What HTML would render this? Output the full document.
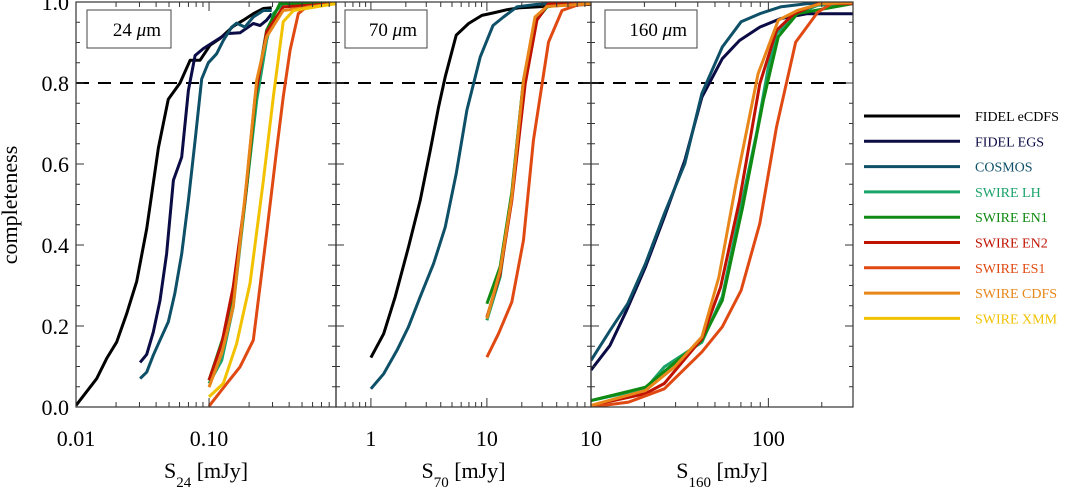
<!DOCTYPE html>
<html><head><meta charset="utf-8">
<style>
html,body{margin:0;padding:0;background:#fff;}
svg{display:block;font-family:"Liberation Serif",serif;}
</style></head>
<body>
<svg id="chart" width="1071" height="493" viewBox="0 0 1071 493" xmlns="http://www.w3.org/2000/svg"></svg>
<script>
// ---- data ----
const seriesNames = ["FIDEL eCDFS","FIDEL EGS","COSMOS","SWIRE LH","SWIRE EN1","SWIRE EN2","SWIRE ES1","SWIRE CDFS","SWIRE XMM"];
const seriesColors = ["#000000","#0b0b45","#0d5068","#1aa36a","#0f8a12","#c01200","#e04a12","#e8861a","#f2c200"];
// panel 24um
const p24_eCDFS_x = [0.01,0.0143,0.017,0.0202,0.024,0.0286,0.034,0.0416,0.0494,0.0605,0.072,0.0855,0.1017,0.121,0.152,0.181,0.215,0.256,0.296];
const p24_eCDFS_y = [0.004,0.07,0.12,0.16,0.23,0.31,0.44,0.64,0.76,0.80,0.856,0.856,0.893,0.91,0.94,0.955,0.971,0.984,0.986];
const p24_EGS_x = [0.0303,0.034,0.0381,0.0428,0.048,0.054,0.0623,0.07,0.0785,0.0906,0.108,0.136,0.171,0.215,0.242,0.271,0.296];
const p24_EGS_y = [0.11,0.13,0.185,0.263,0.378,0.56,0.617,0.782,0.868,0.885,0.901,0.922,0.924,0.947,0.942,0.955,0.971];
const p24_COSMOS_x = [0.0303,0.034,0.0381,0.0428,0.0494,0.0553,0.0623,0.07,0.0785,0.088,0.0987,0.114,0.128,0.148,0.161,0.186,0.215,0.256,0.296];
const p24_COSMOS_y = [0.07,0.086,0.128,0.165,0.21,0.28,0.378,0.51,0.658,0.81,0.85,0.872,0.905,0.938,0.948,0.938,0.963,0.979,0.979];
const p24_LH_x = [0.1,0.1245,0.152,0.192,0.228,0.271,0.304,0.361,0.9];
const p24_LH_y = [0.058,0.115,0.247,0.543,0.757,0.905,0.971,0.996,0.998];
const p24_EN1_x = [0.1,0.128,0.157,0.192,0.228,0.271,0.341,0.9];
const p24_EN1_y = [0.066,0.173,0.305,0.543,0.79,0.93,0.996,0.998];
const p24_EN2_x = [0.1,0.1245,0.152,0.186,0.222,0.271,0.361,0.9];
const p24_EN2_y = [0.066,0.156,0.296,0.51,0.765,0.926,0.988,0.996];
const p24_ES1_x = [0.1,0.136,0.171,0.215,0.271,0.322,0.361,0.407,0.469,0.541,0.9];
const p24_ES1_y = [0.002,0.058,0.099,0.165,0.428,0.634,0.765,0.881,0.971,0.988,0.996];
const p24_CDFS_x = [0.1,0.1245,0.152,0.192,0.228,0.271,0.361,0.9];
const p24_CDFS_y = [0.049,0.132,0.247,0.56,0.807,0.914,0.979,0.996];
const p24_XMM_x = [0.1,0.128,0.161,0.203,0.256,0.304,0.361,0.431,0.9];
const p24_XMM_y = [0.025,0.058,0.156,0.305,0.56,0.765,0.951,0.979,0.996];
// panel 70um
const p70_eCDFS_x = [1,1.29,1.62,2.11,2.66,3.25,3.83,4.37,5.44,6.95,9.06,11.4,14.9,19.4,30.8,45.8,79];
const p70_eCDFS_y = [0.122,0.181,0.272,0.395,0.51,0.634,0.741,0.815,0.918,0.947,0.967,0.973,0.981,0.986,0.989,0.992,0.994];
const p70_COSMOS_x = [1,1.29,1.68,2.11,2.66,3.47,4.37,5.44,6.73,8.76,11.3,13.9,18.1,27,45.8,79];
const p70_COSMOS_y = [0.045,0.082,0.14,0.198,0.272,0.354,0.444,0.576,0.733,0.864,0.942,0.963,0.988,0.994,0.997,0.997];
const p70_LH_x = [10,13,16.4,20.7,26,32.9,45.8,79];
const p70_LH_y = [0.214,0.321,0.527,0.807,0.951,0.988,0.996,0.998];
const p70_EN1_x = [10,13,16.4,20.7,26,32.9,45.8,79];
const p70_EN1_y = [0.255,0.346,0.53,0.807,0.951,0.988,0.996,0.998];
const p70_EN2_x = [10,13,16.4,21.4,27,34,79];
const p70_EN2_y = [0.222,0.329,0.51,0.798,0.955,0.996,0.998];
const p70_ES1_x = [10,12.6,16.4,20.7,25.2,34,44.4,59.7,79];
const p70_ES1_y = [0.123,0.181,0.259,0.412,0.658,0.901,0.979,0.992,0.996];
const p70_CDFS_x = [10,13,16.4,20.7,26,32.9,79];
const p70_CDFS_y = [0.218,0.337,0.519,0.807,0.963,0.989,0.996];
// panel 160um
const p160_EGS_x = [10,12.8,15.9,20.3,25.9,33.8,42.2,55,68.7,89.5,117,166,298];
const p160_EGS_y = [0.091,0.152,0.239,0.346,0.469,0.609,0.765,0.86,0.905,0.938,0.959,0.971,0.971];
const p160_COSMOS_x = [10,12.8,16.1,20.3,25.9,33.8,42.2,55,70.2,89.5,117,166,298];
const p160_COSMOS_y = [0.115,0.189,0.255,0.354,0.477,0.601,0.774,0.889,0.951,0.971,0.988,0.996,0.998];
const p160_LH_x = [10,20.3,25.9,33.8,42.2,55,68.7,85.7,100,111.2,145.8,190,298];
const p160_LH_y = [0.016,0.045,0.099,0.132,0.16,0.272,0.477,0.675,0.84,0.922,0.971,0.992,0.996];
const p160_EN1_x = [10,20.3,42.2,55,71.7,93.7,113.7,145.8,298];
const p160_EN1_y = [0.016,0.049,0.165,0.263,0.494,0.757,0.914,0.971,0.996];
const p160_EN2_x = [10,20.3,25.9,42.2,53.8,68.7,89.5,111.2,139.6,191.6,298];
const p160_EN2_y = [0.004,0.033,0.058,0.169,0.296,0.51,0.798,0.93,0.971,0.996,0.996];
const p160_ES1_x = [10,16.3,25.9,42.2,55,70.2,89.5,111.2,142.6,190,226.9,298];
const p160_ES1_y = [0,0.012,0.045,0.136,0.198,0.288,0.453,0.691,0.901,0.975,0.996,1.0];
const p160_CDFS_x = [10,20.3,29.6,42.2,52.6,65.7,87.5,113.7,145.8,198.8,298];
const p160_CDFS_y = [0.004,0.041,0.099,0.173,0.321,0.551,0.823,0.955,0.979,0.996,0.998];

const yTicks = [0,0.2,0.4,0.6,0.8,1.0];
const yTickLabels = ["0.0","0.2","0.4","0.6","0.8","1.0"];

// ---- layout ----
const NS="http://www.w3.org/2000/svg";
const svg=document.getElementById('chart');
const TOP=2,BOT=407;
const panels=[
 {key:'p24',x0:76,x1:336,lo:0.01,hi:0.9,ticks:[0.01,0.1],labels:["0.01","0.10"],box:[87,10,84,38],boxText:"24",xl:"24",
  series:[[0,p24_eCDFS_x,p24_eCDFS_y],[1,p24_EGS_x,p24_EGS_y],[2,p24_COSMOS_x,p24_COSMOS_y],[3,p24_LH_x,p24_LH_y],[4,p24_EN1_x,p24_EN1_y],[5,p24_EN2_x,p24_EN2_y],[6,p24_ES1_x,p24_ES1_y],[7,p24_CDFS_x,p24_CDFS_y],[8,p24_XMM_x,p24_XMM_y]]},
 {key:'p70',x0:336,x1:591,lo:0.5,hi:79,ticks:[1,10],labels:["1","10"],box:[345,10,82,38],boxText:"70",xl:"70",
  series:[[0,p70_eCDFS_x,p70_eCDFS_y],[2,p70_COSMOS_x,p70_COSMOS_y],[3,p70_LH_x,p70_LH_y],[4,p70_EN1_x,p70_EN1_y],[5,p70_EN2_x,p70_EN2_y],[6,p70_ES1_x,p70_ES1_y],[7,p70_CDFS_x,p70_CDFS_y]]},
 {key:'p160',x0:591,x1:853,lo:10,hi:300,ticks:[10,100],labels:["10","100"],box:[605,10,92,38],boxText:"160",xl:"160",
  series:[[1,p160_EGS_x,p160_EGS_y],[2,p160_COSMOS_x,p160_COSMOS_y],[3,p160_LH_x,p160_LH_y],[4,p160_EN1_x,p160_EN1_y],[5,p160_EN2_x,p160_EN2_y],[6,p160_ES1_x,p160_ES1_y],[7,p160_CDFS_x,p160_CDFS_y]]}
];
function el(tag,attrs,parent){const e=document.createElementNS(NS,tag);for(const k in attrs)e.setAttribute(k,attrs[k]);(parent||svg).appendChild(e);return e;}
function yScale(v){return BOT-(BOT-TOP)*v;}

const defs=el('defs',{});
panels.forEach((p,i)=>{const c=el('clipPath',{id:'clip'+i},defs);el('rect',{x:p.x0,y:TOP,width:p.x1-p.x0,height:BOT-TOP},c);});

panels.forEach((p,i)=>{
 const xs=v=>p.x0+(p.x1-p.x0)*(Math.log10(v)-Math.log10(p.lo))/(Math.log10(p.hi)-Math.log10(p.lo));
 const g=el('g',{});
 
 
 const d=el('line',{x1:p.x0,x2:p.x1,y1:yScale(0.8),y2:yScale(0.8),stroke:'#000','stroke-width':2,'stroke-dasharray':'13,9'},g);
 
 
 const sg=el('g',{'clip-path':'url(#clip'+i+')'},g);
 p.series.forEach(s=>{
  const pts=s[1].map((x,j)=>xs(x).toFixed(1)+','+yScale(s[2][j]).toFixed(1)).join(' ');
  const pl=el('polyline',{points:pts,fill:'none',stroke:seriesColors[s[0]],'stroke-width':3,'stroke-linejoin':'round'},sg);
  
  
 });
 el('rect',{x:p.x0,y:TOP,width:p.x1-p.x0,height:BOT-TOP,fill:'none',stroke:'#333','stroke-width':1.2},g);
 for(let k=0;k<=20;k++){const v=k*0.05;const major=(k%4===0);const L=major?8:4;const y=yScale(v);
  el('line',{x1:p.x0,x2:p.x0+L,y1:y,y2:y,stroke:'#333','stroke-width':1},g);
  el('line',{x1:p.x1,x2:p.x1-L,y1:y,y2:y,stroke:'#333','stroke-width':1},g);}
 const dlo=Math.floor(Math.log10(p.lo)),dhi=Math.ceil(Math.log10(p.hi));
 for(let e=dlo;e<=dhi;e++)for(let m=1;m<10;m++){const v=m*Math.pow(10,e);if(v<p.lo*0.999||v>p.hi*1.001)continue;
  const x=xs(v);const L=m===1?9:5;
  el('line',{x1:x,x2:x,y1:BOT,y2:BOT-L,stroke:'#333','stroke-width':1},g);
  el('line',{x1:x,x2:x,y1:TOP,y2:TOP+L,stroke:'#333','stroke-width':1},g);}
 p.ticks.forEach((v,j)=>{const t=el('text',{x:xs(v),y:446,'text-anchor':'middle','font-size':22,fill:'#000'},g);t.textContent=p.labels[j];
  
  });
 const b=el('g',{},g);
 
 
 el('rect',{x:p.box[0],y:p.box[1],width:p.box[2],height:p.box[3],fill:'#fff',stroke:'#444','stroke-width':1},b);
 const bt=el('text',{x:p.box[0]+p.box[2]-10,y:p.box[1]+26,'text-anchor':'end','font-size':19,fill:'#000'},b);
 bt.innerHTML=p.boxText+' <tspan font-style="italic">μ</tspan>m';
 const xt=el('text',{x:(p.x0+p.x1)/2,y:478,'text-anchor':'middle','font-size':22,fill:'#000'},g);
 xt.innerHTML='S<tspan font-size="15" dy="9">'+p.xl+'</tspan><tspan dy="-9"> [mJy]</tspan>';
 
 
});
yTicks.forEach((v,j)=>{const t=el('text',{x:69,y:yScale(v)+8,'text-anchor':'end','font-size':22,fill:'#000'});t.textContent=yTickLabels[j];
 
 });
const yt=el('text',{x:0,y:0,transform:'translate(17,205) rotate(-90)','text-anchor':'middle','font-size':22,fill:'#000'});
yt.textContent='completeness';


seriesNames.forEach((n,i)=>{const y=116+i*25.3;const g=el('g',{});
 
 
 el('line',{x1:864,x2:960,y1:y,y2:y,stroke:seriesColors[i],'stroke-width':3},g);
 const t=el('text',{x:975,y:y+5,'font-size':14,fill:i===0?'#000':seriesColors[i]},g);t.textContent=n;});
</script>
</body></html>
